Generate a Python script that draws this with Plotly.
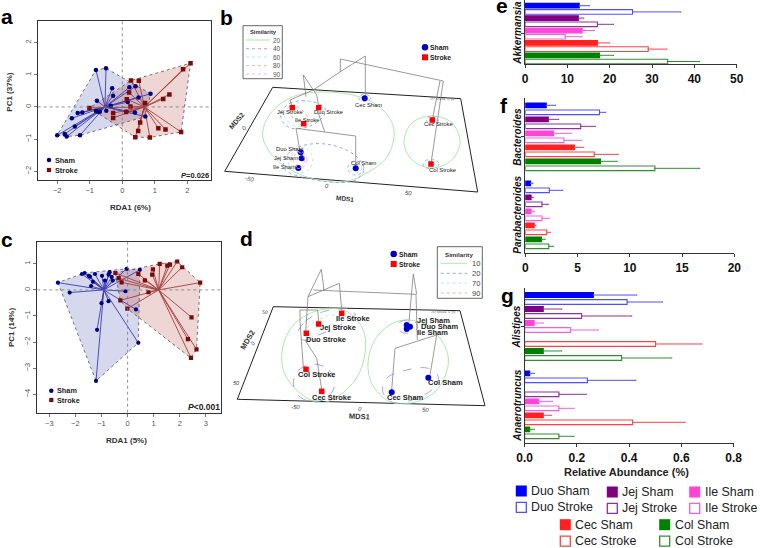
"""
Rebuilds the seven-panel microbiome figure: RDA ordinations (a, c), nMDS
cluster maps (b, d) and relative abundance bars (e, f, g).
"""
import plotly.graph_objects as go

W, H = 760, 548
FONT = "Liberation Sans"

# ---- panel a: RDA scores
a_sham_x = [-2.00, -1.77, -1.71, -1.30, -1.46, -1.55, -1.37, -1.23, -0.81, -0.50, -0.78, -0.31, -0.28,
            0.22, 0.41, 0.87, 0.50, 0.17, -0.35, -0.81, -0.75, -0.69, -0.49, 0.12, 0.39, 0.71]
a_sham_y = [-0.88, -0.84, -0.92, -0.88, -0.61, -0.35, -0.19, -0.17, 1.15, 1.20, 0.19, 0.58, 0.35,
            0.61, 0.64, 0.41, 0.29, 0.15, 0.04, -0.13, -0.15, -0.15, -0.12, -0.15, -0.17, -0.30]
a_stroke_x = [2.10, 1.87, 0.27, 0.51, 1.45, 1.26, 0.21, 0.14, 0.70, 0.25, -1.01, -0.28, -0.28, 0.12,
              0.55, 0.49, 0.40, 0.85, 1.11, 1.33, 1.81]
a_stroke_y = [1.36, 1.17, 0.82, 0.81, 0.39, 0.25, 0.45, 0.24, 0.12, 0.01, -0.03, -0.19, -0.34, -0.16,
              -0.48, -0.75, -0.94, -0.95, -0.66, -0.70, -0.78]
a_sham_centre = (-0.53, 0.0)
a_stroke_centre = (0.68, 0.0)

# ---- panel c: RDA scores
c_sham_x = [-2.67, -2.22, -1.75, -1.65, -1.49, -1.44, -1.25, -1.33, -1.40, -0.98, -0.69, -0.73, -0.61,
            -0.57, -0.87, -0.04, 0.47, -0.08, -0.73, -1.00, -1.17, -1.21, 0.41, 0.32]
c_sham_y = [0.28, -0.10, 0.61, 0.65, 0.54, 0.51, 0.61, 0.31, 0.15, 0.54, 0.68, 0.59, 0.50,
            0.36, 0.36, 0.81, 0.77, -0.05, -0.43, -0.51, -1.53, -3.49, -2.03, -0.75]
c_stroke_x = [-0.47, -0.34, -0.23, 0.41, 0.66, 0.94, 0.97, 1.23, 1.52, 1.62, 1.90, 2.09, 2.78, 0.80,
              -0.28, -0.01, 2.45, 2.31, 2.64, 2.43]
c_stroke_y = [0.65, 0.45, 0.29, 0.61, 0.37, 0.59, 0.79, 1.00, 0.93, 0.97, 1.09, 0.87, 0.28, -0.09,
              -0.40, -0.72, -1.05, -1.89, -2.28, -2.61]
c_sham_centre = (-0.91, 0.0)
c_stroke_centre = (1.19, 0.0)

# ---- panels e, f, g: order is Duo, Jej, Ile, Cec, Col with sham then stroke
tissues = ["Duo", "Jej", "Ile", "Cec", "Col"]
tissue_colors = ["#0000ff", "#800080", "#ff44d8", "#ff2020", "#008000"]
stroke_lines = ["#4f4fff", "#9030a0", "#f060e0", "#ff4040", "#309030"]
akkermansia = [12.8, 25.4, 12.6, 17.1, 13.5, 9.5, 17.1, 29.1, 17.6, 33.7]
akkermansia_top = [15.2, 36.8, 13.9, 20.9, 16.4, 13.5, 20.0, 33.5, 20.9, 41.2]
bacteroides = [2.0, 7.1, 2.2, 5.3, 2.7, 3.7, 4.7, 6.6, 7.2, 12.4]
bacteroides_top = [2.9, 7.7, 3.2, 6.7, 4.4, 5.4, 5.6, 8.9, 8.8, 16.7]
parabacteroides = [0.5, 2.3, 0.55, 1.6, 0.55, 1.6, 0.85, 2.05, 1.55, 2.25]
parabacteroides_top = [0.73, 3.6, 0.75, 2.2, 0.9, 2.3, 1.0, 2.4, 1.9, 2.7]
alistipes = [0.263, 0.392, 0.071, 0.218, 0.036, 0.176, 0, 0.501, 0.071, 0.371]
alistipes_top = [0.429, 0.528, 0.142, 0.41, 0.071, 0.282, 0, 0.678, 0.142, 0.563]
anaerotruncus = [0.019, 0.24, 0, 0.131, 0.054, 0.131, 0.071, 0.413, 0.019, 0.131]
anaerotruncus_top = [0.037, 0.426, 0, 0.236, 0.107, 0.189, 0.103, 0.614, 0.037, 0.189]

# ---- panel b: cluster map, read in page pixels because the plane is tilted
b_plane = [(272.7, 87.3), (460.7, 98.7), (477.7, 192), (224.7, 171.3), (272.7, 87.3)]
b_sham_names = ["Cec Sham", "Duo Sham", "Jej Sham", "Ile Sham", "Col Sham"]
b_sham_pts = [(364.7, 98.3), (300.7, 152.3), (301.7, 158.3), (298.3, 168), (355.7, 168.3)]
b_sham_label_at = [(368.7, 105), (290, 148.7), (286, 157.7), (284.3, 166.7), (364, 163)]
b_stroke_names = ["Jej Stroke", "Duo Stroke", "Ile Stroke", "Cec Stroke", "Col Stroke"]
b_stroke_pts = [(292.3, 107.7), (318.7, 107.7), (303.7, 123.7), (432.3, 120), (431, 164)]
b_stroke_label_at = [(290, 111.7), (328.3, 111.7), (307.3, 120), (438.3, 124.3), (442.3, 170)]
b_tree = [
    [(365.3, 96.7), (365.3, 56), (340.3, 71.7), (313.3, 90), (290, 100), (292.3, 107)],
    [(340.3, 71.7), (340.3, 59), (443.3, 81), (431, 163.3)],
    [(440, 81), (432.3, 120)],
    [(306, 96.7), (303.3, 75), (316.7, 95), (318.7, 107)],
    [(296, 128.3), (355.7, 136), (355.7, 165.7)],
    [(296, 128.3), (300, 151.7)],
    [(318.3, 113), (324.7, 131.7)],
]
b_green_left = [(320, 92), (360, 97), (383, 110), (394, 130), (387, 157), (363, 175), (343, 182),
                (307, 177), (277, 160), (263, 138), (268, 117), (290, 98), (320, 92)]
b_green_right = [(432, 116), (452, 123), (460, 142), (452, 160), (432, 168), (412, 160), (404, 142),
                 (412, 123), (432, 116)]
b_blue_upper = [(280.7, 113.3), (290, 103.3), (308.3, 101), (325, 108.3), (323.3, 116.7), (308.3, 126.7),
                (291.7, 128.3), (283.3, 122.7), (280.7, 113.3)]
b_cyan_upper = [(283.3, 113.3), (296.7, 103.3), (316.7, 102.7), (323.3, 111.7), (311.7, 122.7), (295, 126),
                (283.3, 113.3)]
b_pink_upper = [(289, 110), (296.7, 106.7), (308.3, 118.3), (307.3, 126), (298.3, 123.3), (289, 110)]
b_blue_lower = [(284, 168.3), (288.3, 153.3), (305, 145), (331.7, 145), (356.7, 156.7), (364, 170),
                (353.3, 181), (306.7, 178.3), (284, 168.3)]
b_cyan_lower = [(295, 150), (306.7, 148.3), (312.7, 160), (307.3, 170.7), (293.3, 171.7), (288.3, 161.7),
                (295, 150)]

# ---- panel d
d_plane = [(273.3, 306.7), (460, 310.7), (485, 405.7), (237.3, 399.3), (273.3, 306.7)]
d_sham_names = ["Jej Sham", "Duo Sham", "Ile Sham", "Col Sham", "Cec Sham"]
d_sham_pts = [(406.7, 325), (410, 326.7), (406.7, 329), (428.3, 377.7), (391.7, 392.3)]
d_sham_label_at = [(433.7, 320.7), (439, 326.7), (432.7, 332.7), (445.7, 382.7), (405, 397.7)]
d_stroke_names = ["Ile Stroke", "Jej Stroke", "Duo Stroke", "Col Stroke", "Cec Stroke"]
d_stroke_pts = [(341.7, 313.3), (318.7, 324), (306.3, 333.3), (306, 369.3), (321.7, 391.3)]
d_stroke_label_at = [(353.3, 318.7), (337.7, 327.7), (325.7, 339), (316.7, 374), (331.7, 397.3)]
d_tree = [
    [(305.7, 331.7), (308, 296.7), (321.3, 269.3), (324, 290)],
    [(313.3, 290), (416, 294.3), (417.3, 340)],
    [(308, 296.7), (339.3, 283.3), (341.7, 310)],
    [(409, 321.7), (413.3, 274), (416.7, 294.3)],
    [(391.7, 390), (395, 348.3), (436.7, 335), (430, 375)],
    [(300, 321.7), (300, 310), (317.7, 310), (318.7, 321.7)],
    [(300, 321.7), (303.3, 366.7)],
    [(305, 340), (316.7, 358.3), (321.7, 389.3)],
]
d_green_left = [(320, 310), (345, 310.7), (361.7, 326.7), (365.7, 345), (358.3, 375), (340, 395), (320, 402.7),
                (298.3, 391.7), (283.3, 370), (283.3, 345), (295, 323.3), (320, 310)]
d_green_right = [(400, 320.7), (426.7, 325), (445, 346.7), (448.3, 363.3), (438.3, 388.3), (416.7, 401.7),
                 (390, 401.7), (371.7, 383.3), (368.3, 360), (378.3, 335), (400, 320.7)]
d_blue_upper = [(297.7, 334), (305, 321.7), (323.3, 311.7), (350, 309), (355, 315), (340, 325), (318.3, 335),
                (303.3, 340), (297.7, 334)]
d_cyan_upper = [(303, 333), (315, 322), (332, 315), (340, 318), (325, 328), (310, 337), (303, 333)]
d_blue_lower_left = [(314, 364), (329, 370), (334.7, 383), (329, 396), (314, 402), (299, 396), (293.3, 383),
                     (299, 370), (314, 364)]
d_blue_top_right = [(407.7, 320), (415, 322), (417.7, 326.7), (415, 331), (407.7, 333.4), (400, 331), (397.7, 326.7),
                    (400, 322), (407.7, 320)]
d_blue_lower_right = [(382.7, 391.7), (386.7, 378.3), (406.7, 370), (428.3, 368.3), (438.3, 376.7), (433.3, 388.3),
                      (416.7, 398.3), (393.3, 402.7), (382.7, 391.7)]

GREEN, BLUE, CYAN, PINK, MAGENTA = "#9fe89f", "#9a9ae8", "#a8eaea", "#f0a8a8", "#f0a8f0"
b_levels = [("20", GREEN, "solid"), ("40", BLUE, "dot"), ("60", CYAN, "dot"), ("80", PINK, "dot"), ("90", MAGENTA, "dot")]
d_levels = [("10", GREEN, "solid"), ("20", BLUE, "dot"), ("70", CYAN, "dot"), ("90", PINK, "dot")]


def dom_x(left, right):
    return [left / W, right / W]


def dom_y(top, bottom):
    return [1 - bottom / H, 1 - top / H]


def hull(xs, ys):
    """Convex hull (monotone chain), closed, for the shaded group polygons."""
    pts = sorted(zip(xs, ys))

    def half(seq):
        out = []
        for p in seq:
            while len(out) > 1 and ((out[-1][0] - out[-2][0]) * (p[1] - out[-2][1])
                                    - (out[-1][1] - out[-2][1]) * (p[0] - out[-2][0])) <= 0:
                out.pop()
            out.append(p)
        return out[:-1]

    ring = half(pts) + half(pts[::-1])
    ring.append(ring[0])
    return [p[0] for p in ring], [p[1] for p in ring]


fig = go.Figure()
CANVAS = dict(xaxis="x6", yaxis="y6")


def canvas_line(pts, color, width=1, dash="solid", shape="linear"):
    fig.add_trace(go.Scatter(
        x=[p[0] for p in pts], y=[p[1] for p in pts], mode="lines",
        line=dict(color=color, width=width, dash=dash, shape=shape, smoothing=1.0),
        hoverinfo="skip", **CANVAS,
    ))


def canvas_marker(pts, color, symbol, size):
    fig.add_trace(go.Scatter(
        x=[p[0] for p in pts], y=[p[1] for p in pts], mode="markers",
        marker=dict(color=color, symbol=symbol, size=size, line=dict(width=0)),
        hoverinfo="skip", **CANVAS,
    ))


def note(x, y, text, size=8, color="#111111", anchor="left", angle=0):
    fig.add_annotation(
        x=x, y=y, xref="x6", yref="y6", text=text, showarrow=False, xanchor=anchor, yanchor="middle",
        textangle=angle, font=dict(family=FONT, size=size, color=color), borderpad=0, borderwidth=0,
    )


def ordination(axis_n, sham_x, sham_y, stroke_x, stroke_y, sham_centre, stroke_centre, msize):
    refs = dict(xaxis="x" if axis_n == 1 else "x2", yaxis="y" if axis_n == 1 else "y2")
    groups = [
        (sham_x, sham_y, sham_centre, "rgba(50,60,170,0.2)", "#3c3cb4", "#000080", "circle"),
        (stroke_x, stroke_y, stroke_centre, "rgba(165,50,40,0.2)", "#aa3c3c", "#7d0a0a", "square"),
    ]
    for xs, ys, centre, fill, spoke, dot, symbol in groups:
        hx, hy = hull(xs, ys)
        fig.add_trace(go.Scatter(x=hx, y=hy, mode="lines", fill="toself", fillcolor=fill,
                                 line=dict(color="#555555", width=0.8, dash="dot"), hoverinfo="skip", **refs))
    for xs, ys, centre, fill, spoke, dot, symbol in groups:
        sx, sy = [], []
        for px, py in zip(xs, ys):
            sx += [centre[0], px, None]
            sy += [centre[1], py, None]
        fig.add_trace(go.Scatter(x=sx, y=sy, mode="lines", line=dict(color=spoke, width=0.9),
                                 hoverinfo="skip", **refs))
    for xs, ys, centre, fill, spoke, dot, symbol in groups:
        fig.add_trace(go.Scatter(x=xs, y=ys, mode="markers",
                                 marker=dict(color=dot, symbol=symbol, size=msize, line=dict(width=0)),
                                 hoverinfo="skip", **refs))


ordination(1, a_sham_x, a_sham_y, a_stroke_x, a_stroke_y, a_sham_centre, a_stroke_centre, 4.5)
ordination(2, c_sham_x, c_sham_y, c_stroke_x, c_stroke_y, c_sham_centre, c_stroke_centre, 4.2)

# ordination frames
R_TICKS = dict(showgrid=False, automargin=False, ticks="outside", ticklen=3, tickwidth=0.8, tickcolor="#777777",
               tickfont=dict(family=FONT, size=7.5, color="#555555"), showline=True, linecolor="#333333",
               linewidth=1.2, mirror=True, zeroline=False)
layout_axes = dict(
    xaxis=dict(domain=dom_x(37.7, 210.7), range=[-2.6, 2.72], tickvals=[-2, -1, 0, 1, 2], anchor="y", **R_TICKS),
    yaxis=dict(domain=dom_y(20.7, 180.3), range=[-2.28, 2.68], tickvals=[-2, -1, 0, 1, 2], tickangle=-90,
               anchor="x", **R_TICKS),
    xaxis2=dict(domain=dom_x(37.3, 221.3), range=[-3.46, 3.59], tickvals=[-3, -2, -1, 0, 1, 2, 3], anchor="y2", **R_TICKS),
    yaxis2=dict(domain=dom_y(241.7, 412.7), range=[-4.71, 1.85], tickvals=[-4, -3, -2, -1, 0, 1], tickangle=-90,
                anchor="x2", **R_TICKS),
)

# dotted zero cross on both ordinations
cross_shapes = []
for xr, yr in [("x", "y"), ("x2", "y2")]:
    x_span = layout_axes["xaxis" if xr == "x" else "xaxis2"]["range"]
    y_span = layout_axes["yaxis" if yr == "y" else "yaxis2"]["range"]
    for x0, x1, y0, y1 in [(x_span[0], x_span[1], 0, 0), (0, 0, y_span[0], y_span[1])]:
        cross_shapes.append(dict(type="line", xref=xr, yref=yr, x0=x0, x1=x1, y0=y0, y1=y1,
                                 line=dict(color="#777777", width=0.8, dash="dot")))

# abundance bars
BAR_TICKS = dict(showgrid=False, automargin=False, zeroline=False, showline=True, linecolor="#333333", linewidth=1.3,
                 ticks="outside", ticklen=3, tickwidth=1.2, tickcolor="#333333")
bar_panels = [
    ("x3", "y3", [(akkermansia, akkermansia_top, 0.0)], 0.75),
    ("x4", "y4", [(bacteroides, bacteroides_top, 0.0), (parabacteroides, parabacteroides_top, 11.14)], 0.67),
    ("x5", "y5", [(alistipes, alistipes_top, 0.0), (anaerotruncus, anaerotruncus_top, 11.19)], 0.67),
]
for xa, ya, groups, bar_w in bar_panels:
    for vals, tops, offset in groups:
        for k, (v, top) in enumerate(zip(vals, tops)):
            if v == 0:
                continue
            t = k // 2
            is_stroke = k % 2 == 1
            line_col = stroke_lines[t]
            fig.add_trace(go.Bar(
                x=[v], y=[offset + k], orientation="h", width=bar_w, xaxis=xa, yaxis=ya,
                marker=dict(color="#ffffff" if is_stroke else tissue_colors[t],
                            line=dict(color=line_col if is_stroke else tissue_colors[t], width=1.1)),
                error_x=dict(type="data", symmetric=False, array=[top - v], arrayminus=[0],
                             color=line_col, thickness=1, width=0.5),
                hoverinfo="skip",
            ))


def bar_x(left, right, upper, step, anchor):
    return dict(domain=dom_x(left, right), range=[0, upper], dtick=step, anchor=anchor,
                tickfont=dict(family=FONT, size=12, color="#111111"), tickprefix="<b>", ticksuffix="</b>", **BAR_TICKS)


def bar_y(top, bottom, r, vals, anchor):
    return dict(domain=dom_y(top, bottom), range=r, tickvals=vals, showticklabels=False, anchor=anchor, **BAR_TICKS)


layout_axes.update(
    xaxis3=bar_x(525, 736.7, 50, 10, "y3"),
    yaxis3=bar_y(0, 64.3, [9.45, -0.92], [4.5], "x3"),
    xaxis4=bar_x(525.3, 734.3, 20, 5, "y4"),
    yaxis4=bar_y(97.7, 253.3, [21.14, -1.09], [4.5, 15.64], "x4"),
    xaxis5=bar_x(524.7, 733.7, 0.8, 0.2, "y5"),
    yaxis5=bar_y(288.3, 443.3, [21.19, -0.96], [4.5, 15.69], "x5"),
    xaxis6=dict(domain=[0, 1], range=[0, W], visible=False, anchor="y6", automargin=False),
    yaxis6=dict(domain=[0, 1], range=[H, 0], visible=False, anchor="x6", automargin=False),
)
layout_axes["xaxis5"]["tickformat"] = ".1f"

# genus names beside the bars
for gy, genus in [(33, "Akkermansia"), (137, "Bacteroides"), (215, "Parabacteroides"),
                  (326.7, "Alistipes"), (405, "Anaerotruncus")]:
    note(516.7, gy, f"<b><i>{genus}</i></b>", 10, "#111111", "center", -90)

# cluster maps
for plane, tree, contours in [
    (b_plane, b_tree, [(b_green_left, GREEN, "solid"), (b_green_right, GREEN, "solid"), (b_blue_upper, BLUE, "dot"),
                       (b_cyan_upper, CYAN, "dot"), (b_pink_upper, PINK, "dot"), (b_blue_lower, BLUE, "dot"),
                       (b_cyan_lower, CYAN, "dot")]),
    (d_plane, d_tree, [(d_green_left, GREEN, "solid"), (d_green_right, GREEN, "solid"), (d_blue_upper, BLUE, "dash"),
                       (d_cyan_upper, CYAN, "dot"), (d_blue_lower_left, BLUE, "dash"), (d_blue_top_right, BLUE, "dash"),
                       (d_blue_lower_right, BLUE, "dash")]),
]:
    canvas_line(plane, "#222222", 1)
    for pts, col, dash in contours:
        canvas_line(pts, col, 0.9, dash, "spline")
    for seg in tree:
        canvas_line(seg, "#808080", 0.8)

# small contours drawn directly around single sites of panel b
small_rings = [(364.7, 98, 6, 3.5, BLUE), (355.7, 168, 8, 7, BLUE), (355.7, 168, 6, 5, CYAN), (432.3, 120, 6, 4, BLUE),
               (431, 164, 8, 4.7, BLUE), (431, 164, 6, 3.5, CYAN), (299, 160, 8, 8.5, PINK), (299, 160, 5.5, 7.5, PINK)]
ring_shapes = [dict(type="circle", xref="x6", yref="y6", x0=cx - rx, x1=cx + rx, y0=cy - ry, y1=cy + ry,
                    line=dict(color=col, width=0.8, dash="dot")) for cx, cy, rx, ry, col in small_rings]

SHAM_BLUE, STROKE_RED = "#0000c8", "#ff0000"
canvas_marker(b_sham_pts, SHAM_BLUE, "circle", 6)
canvas_marker(b_stroke_pts, STROKE_RED, "square", 5.5)
canvas_marker(d_sham_pts, SHAM_BLUE, "circle", 6)
canvas_marker(d_stroke_pts, STROKE_RED, "square", 5.5)
for names, where in [(b_sham_names, b_sham_label_at), (b_stroke_names, b_stroke_label_at)]:
    for name, (lx, ly) in zip(names, where):
        note(lx, ly, name, 5.8, "#222222", "center")
for names, where in [(d_sham_names, d_sham_label_at), (d_stroke_names, d_stroke_label_at)]:
    for name, (lx, ly) in zip(names, where):
        note(lx, ly, f"<b>{name}</b>", 7.5, "#222222", "center")

# plane axis labels
note(345, 198.7, "<b>MDS1</b>", 6.5, "#333333", "center", 7)
note(237, 120.7, "<b>MDS2</b>", 7, "#333333", "center", -50)
note(249, 179, "<i>-50</i>", 6, "#444444", "center", 10)
note(326.7, 185.5, "<i>0</i>", 6, "#444444", "center", 5)
note(408, 192.5, "<i>50</i>", 6, "#444444", "center", 5)
note(244, 127.7, "<i>0</i>", 6, "#444444", "center", -50)
note(441.7, 99, "2D Stress: 0.14", 3.5, "#666666", "center", 3)
note(359, 416, "<b>MDS1</b>", 7.5, "#333333", "center", 3)
note(247, 340, "<b>MDS2</b>", 7.5, "#333333", "center", -60)
note(295, 407, "<i>-50</i>", 6, "#444444", "center", 3)
note(360, 409, "<i>0</i>", 6, "#444444", "center", 3)
note(425, 410, "<i>50</i>", 6, "#444444", "center", 3)
note(265, 312, "<i>50</i>", 5, "#444444", "center", 3)
note(253, 343, "<i>0</i>", 5.5, "#444444", "center", -60)
note(236, 382.5, "<i>50</i>", 5.5, "#444444", "center", 0)
note(443, 311.5, "2D Stress: 0.19", 3.5, "#666666", "center", 1)

# similarity keys
b_box = [(243, 25.7), (282.3, 25.7), (282.3, 78.7), (243, 78.7), (243, 25.7)]
canvas_line(b_box, "#666666", 1)
note(263, 31.5, "<b>Similarity</b>", 5.8, "#333333", "center")
for (label, col, dash), ky in zip(b_levels, [40, 48.7, 57, 65.7, 74]):
    canvas_line([(246, ky), (270, ky)], col, 0.9, dash)
    note(272.7, ky, label, 6.5, "#555555")
d_box = [(437.3, 246.7), (482.3, 246.7), (482.3, 298.3), (437.3, 298.3), (437.3, 246.7)]
canvas_line(d_box, "#666666", 1)
note(459.3, 254, "<b>Similarity</b>", 6.2, "#333333", "center")
for (label, col, dash), ky in zip(d_levels, [263.3, 273.3, 283, 293]):
    canvas_line([(440.7, ky), (467.3, ky)], col, 0.9, dash)
    note(472.3, ky, label, 7.5, "#444444")

# site keys of b and d
canvas_marker([(425, 47.3), (393.7, 254)], SHAM_BLUE, "circle", 6.5)
canvas_marker([(425, 57.3), (393.7, 264)], STROKE_RED, "square", 6)
for lx, ly, label in [(429.7, 47.3, "Sham"), (429.7, 57.3, "Stroke"), (398.7, 254, "Sham"), (398.7, 264, "Stroke")]:
    note(lx, ly, f"<b>{label}</b>", 6.8, "#222222")

# ordination text
canvas_marker([(49, 160), (51.3, 390.7)], "#000080", "circle", 4.5)
canvas_marker([(49, 170), (51.3, 400)], "#7d0a0a", "square", 4.2)
for lx, ly, label in [(55, 160, "Sham"), (55, 170, "Stroke"), (57, 390.7, "Sham"), (57, 400, "Stroke")]:
    note(lx, ly, f"<b>{label}</b>", 7.3, "#222222")
note(208.5, 175.5, "<b><i>P</i>=0.026</b>", 7.5, "#222222", "right")
note(219.5, 407, "<b><i>P</i>&lt;0.001</b>", 8.5, "#222222", "right")
note(130, 207, "<b>RDA1 (6%)</b>", 8, "#333333", "center")
note(8.7, 92, "<b>PC1 (37%)</b>", 8, "#333333", "center", -90)
note(126, 440, "<b>RDA1 (5%)</b>", 8, "#333333", "center")
note(11, 328, "<b>PC1 (14%)</b>", 8, "#333333", "center", -90)

# panel letters
for lx, ly, letter in [(7, 16.7, "a"), (226, 17.7, "b"), (7, 239.4, "c"), (246, 238.7, "d"),
                       (502, 5, "e"), (504, 105.4, "f"), (507, 295.4, "g")]:
    note(lx, ly, f"<b>{letter}</b>", 21, "#000000", "center")

note(626.7, 472, "<b>Relative Abundance (%)</b>", 11, "#222222", "center")

# tissue key under the bars
key_at = [(521.3, 491), (612.3, 492), (694.7, 492), (565.3, 524.7), (664.7, 524.7)]
for t, (kx, ky) in enumerate(key_at):
    ky2 = ky + 16.4
    canvas_marker([(kx, ky)], tissue_colors[t], "square", 11)
    fig.add_trace(go.Scatter(x=[kx], y=[ky2], mode="markers", hoverinfo="skip", marker=dict(
        symbol="square", size=10, color="#ffffff", line=dict(color=stroke_lines[t], width=1.3)), **CANVAS))
    note(kx + 9.8, ky, f"{tissues[t]} Sham", 12.4, "#222222")
    note(kx + 9.8, ky2, f"{tissues[t]} Stroke", 12.4, "#222222")

fig.update_layout(
    width=W, height=H, margin=dict(l=0, r=0, t=0, b=0), showlegend=False, barmode="overlay",
    paper_bgcolor="#ffffff", plot_bgcolor="rgba(0,0,0,0)", shapes=cross_shapes + ring_shapes, **layout_axes,
)
fig.write_html("out.html", config=dict(displayModeBar=False), post_script="document.body.style.margin='0'")
